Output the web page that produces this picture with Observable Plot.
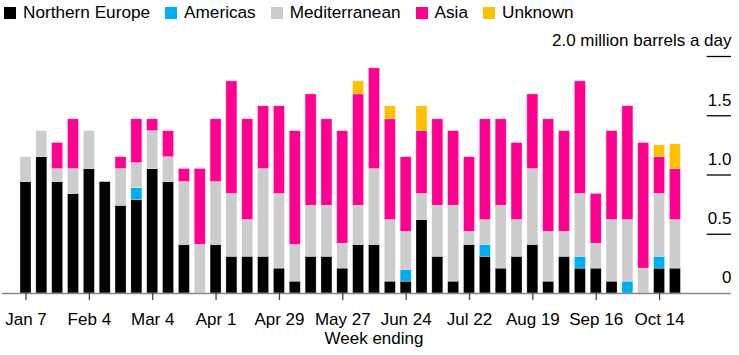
<!DOCTYPE html>
<html>
<head>
<meta charset="utf-8">
<script src="https://cdn.jsdelivr.net/npm/d3@7"></script>
<script src="https://cdn.jsdelivr.net/npm/@observablehq/plot@0.6"></script>
<style>
  html, body { margin: 0; padding: 0; background: #fff; }
  body { width: 739px; height: 355px; overflow: hidden; font-family: "Liberation Sans", Arial, sans-serif; }
  #legend { display: flex; align-items: center; height: 25px; padding-left: 4px; font-size: 17.2px; color: #000; }
  #legend .item { display: flex; align-items: center; margin-right: 15px; }
  #legend .sw { width: 12px; height: 12px; margin-right: 7px; flex: none; }
</style>
</head>
<body>
<div id="legend"></div>
<div id="chart"></div>
<script>
const weeks = ["Jan 7","Jan 14","Jan 21","Jan 28","Feb 4","Feb 11","Feb 18","Feb 25","Mar 4","Mar 11","Mar 18","Mar 25","Apr 1","Apr 8","Apr 15","Apr 22","Apr 29","May 6","May 13","May 20","May 27","Jun 3","Jun 10","Jun 17","Jun 24","Jul 1","Jul 8","Jul 15","Jul 22","Jul 29","Aug 5","Aug 12","Aug 19","Aug 26","Sep 2","Sep 9","Sep 16","Sep 23","Sep 30","Oct 7","Oct 14","Oct 21"];
const xTickLabels = ["Jan 7","Feb 4","Mar 4","Apr 1","Apr 29","May 27","Jun 24","Jul 22","Aug 19","Sep 16","Oct 14"];

const seriesNames = ["Northern Europe","Americas","Mediterranean","Asia","Unknown"];
const seriesColors = ["#000000","#00aeef","#cccccc","#ff0090","#ffc000"];

const northernEurope = [0.94,1.15,0.94,0.84,1.05,0.94,0.74,0.79,1.05,0.94,0.41,0,0.41,0.31,0.31,0.31,0.21,0.10,0.31,0.31,0.21,0.41,0.41,0.10,0.10,0.62,0.31,0.10,0.41,0.31,0.21,0.31,0.41,0.10,0.31,0.21,0.21,0.10,0,0,0.21,0.21];
const americas = [0,0,0,0,0,0,0,0.10,0,0,0,0,0,0,0,0,0,0,0,0,0,0,0,0,0.10,0,0,0,0,0.10,0,0,0,0,0,0.10,0,0,0.10,0,0.10,0];
const mediterranean = [0.21,0.22,0.11,0.21,0.32,0,0.31,0.21,0.32,0.21,0.53,0.41,0.53,0.53,0.31,0.74,0.63,0.31,0.43,0.43,0.21,0.33,0.64,0.52,0.32,0.22,0.43,0.64,0.11,0.21,0.53,0.31,0.64,0.42,0.21,0.53,0.21,0.52,0.52,0.21,0.53,0.41];
const asia = [0,0,0.22,0.42,0,0,0.10,0.37,0.10,0.22,0.11,0.64,0.53,0.95,0.85,0.53,0.74,0.96,0.94,0.73,0.95,0.94,0.85,0.85,0.63,0.53,0.73,0.63,0.63,0.85,0.73,0.65,0.63,0.95,0.85,0.95,0.42,0.75,0.96,1.06,0.31,0.43];
const unknown = [0,0,0,0,0,0,0,0,0,0,0,0,0,0,0,0,0,0,0,0,0,0.11,0,0.11,0,0.21,0,0,0,0,0,0,0,0,0,0,0,0,0,0,0.10,0.21];

const yTickValues = [0, 0.5, 1, 1.5, 2];
const yTickLabels = ["0", "0.5", "1.0", "1.5", "2.0 million barrels a day"];

const seriesValues = [northernEurope, americas, mediterranean, asia, unknown];
const data = [];
seriesNames.forEach((name, s) => {
  weeks.forEach((w, i) => {
    const v = seriesValues[s][i];
    if (v > 0) data.push({week: w, series: name, value: v});
  });
});

// Legend
const legend = document.getElementById("legend");
seriesNames.forEach((name, i) => {
  const item = document.createElement("div");
  item.className = "item";
  const sw = document.createElement("span");
  sw.className = "sw";
  sw.style.background = seriesColors[i];
  const t = document.createElement("span");
  t.textContent = name;
  item.appendChild(sw);
  item.appendChild(t);
  legend.appendChild(item);
});

const pad = 0.3056;
const chart = Plot.plot({
  width: 739,
  height: 330,
  marginLeft: 2,
  marginRight: 8,
  marginTop: 31,
  marginBottom: 62,
  style: {fontFamily: "'Liberation Sans', Arial, sans-serif", fontSize: "17px", color: "#000", background: "#fff"},
  x: {type: "band", domain: weeks, range: [15.16, 685.26], padding: pad, label: null, axis: null},
  y: {domain: [0, 2], axis: null, label: null},
  color: {domain: seriesNames, range: seriesColors},
  marks: [
    Plot.barY(data, Plot.stackY({
      x: "week", y: "value", fill: "series", z: "series", order: seriesNames,
      stroke: "white", strokeWidth: 0.6, strokeOpacity: 0.5
    })),
    Plot.ruleY([0], {stroke: "#888", strokeWidth: 1.5}),
    Plot.ruleY(yTickValues.filter(d => d > 0), {stroke: "#000", strokeWidth: 1.3, insetLeft: 704.7}),
    Plot.text(yTickValues, {y: d => d, text: (d, i) => yTickLabels[i], frameAnchor: "right", textAnchor: "end", dy: -15.5, fontSize: 17, fill: "#000"}),
    Plot.axisX({ticks: xTickLabels, tickSize: 7, tickPadding: 12, stroke: "#444", strokeWidth: 1.3, fontSize: 17, label: null, color: "#000"}),
    Plot.text(["Week ending"], {frameAnchor: "bottom", dx: 7, dy: 50, fontSize: 17, fill: "#000"})
  ]
});
document.getElementById("chart").appendChild(chart);
</script>
</body>
</html>
